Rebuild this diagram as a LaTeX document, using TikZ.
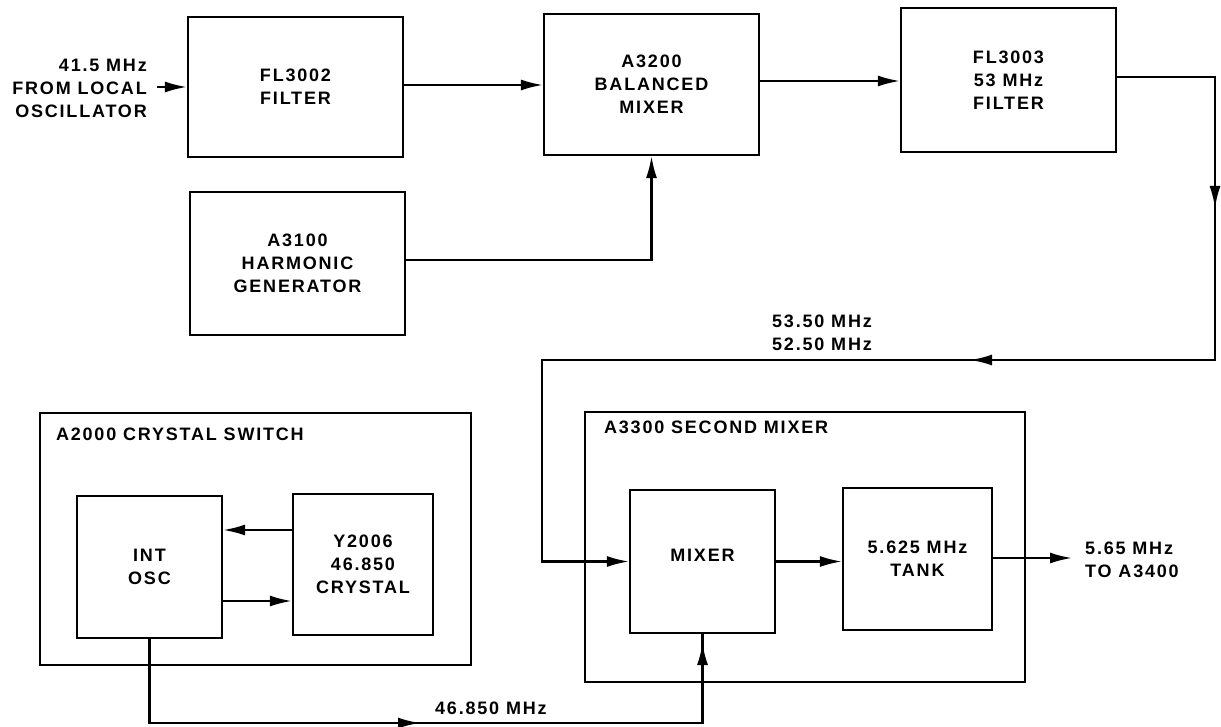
\documentclass[tikz,border=0pt]{standalone}
\usepackage{fontspec}
\setmainfont{Liberation Sans}[LetterSpace=10]
\usetikzlibrary{arrows.meta}
\tikzset{
  blk/.style={draw, line width=2.2pt, align=center, inner sep=0pt, font=\fontsize{18}{23}\selectfont\bfseries},
  lbl/.style={inner sep=0pt, font=\fontsize{18}{23}\selectfont\bfseries},
  wire/.style={line width=2.2pt},
  arr/.style={wire, -{Latex[length=22pt,width=11pt]}},
}
\begin{document}
\begin{tikzpicture}[x=1pt,y=-1pt]
\useasboundingbox (0,0) rectangle (1221,727);
% top row
\node[blk, minimum width=215pt, minimum height=140pt] (fl2) at (295.5,87) {FL3002\\FILTER};
\node[blk, minimum width=215pt, minimum height=143pt] (a3100) at (297.5,263.5) {A3100\\HARMONIC\\GENERATOR};
\node[blk, minimum width=215pt, minimum height=141pt] (a3200) at (651.5,84.5) {A3200\\BALANCED\\MIXER};
\node[blk, minimum width=215pt, minimum height=144pt] (fl3) at (1008.5,80) {FL3003\\53 MHz\\FILTER};
% crystal switch
\node[blk, minimum width=431pt, minimum height=252pt] (a2000) at (255.5,539) {};
\node[lbl, anchor=west] (a2000l) at ([xshift=17pt,yshift=-22pt]a2000.north west) {A2000 CRYSTAL SWITCH};
\node[blk, minimum width=145pt, minimum height=142pt] (intosc) at (149.5,567) {INT\\OSC};
\node[blk, minimum width=140pt, minimum height=141pt] (y2006) at (363,564.5) {Y2006\\46.850\\CRYSTAL};
% second mixer
\node[blk, minimum width=440pt, minimum height=270pt] (a3300) at (805,547) {};
\node[lbl, anchor=west] (a3300l) at ([xshift=20pt,yshift=-16pt]a3300.north west) {A3300 SECOND MIXER};
\node[blk, minimum width=145pt, minimum height=143pt] (mixer) at (702.5,561.5) {\raisebox{6pt}[\height][\depth]{MIXER}};
\node[blk, minimum width=149pt, minimum height=142pt] (tank) at (917.5,559) {5.625 MHz\\TANK};
% labels
\node[lbl, anchor=east, align=right] (inl) at (147,88) {41.5 MHz\\FROM LOCAL\\OSCILLATOR};
\node[lbl, anchor=west, align=left] (midl) at (772,333) {53.50 MHz\\52.50 MHz};
\node[lbl, anchor=west] (xtall) at (435,708) {46.850 MHz};
\node[lbl, anchor=west, align=left] (outl) at (1085,560) {5.65 MHz\\TO A3400};
% coordinates
\coordinate (in) at (157,87);
\coordinate (c2s) at (1215,180);
\coordinate (c2) at (1215,208);
\coordinate (c3) at (1215,360);
\coordinate (c4s) at (1000,360);
\coordinate (c4) at (970,360);
\coordinate (c5) at (542,360);
\coordinate (c6) at (542,561.5);
\coordinate (c7s) at (390,723);
\coordinate (c7) at (420,723);
\coordinate (c9) at (702.5,723);
\coordinate (c8s) at (702.5,670);
\coordinate (c8) at (702.5,643);
\coordinate (out) at (1072,558);
% connectors
\draw[arr] (in) -- (fl2.west);
\draw[arr] ([yshift=2pt]fl2.east) -- ([yshift=2pt]fl2.east -| a3200.west);
\draw[arr] ([yshift=3.5pt]a3100.east) -| (a3200.south);
\draw[arr] ([yshift=3.5pt]a3200.east) -- ([yshift=3.5pt]a3200.east -| fl3.west);
\draw[arr] ([yshift=3pt]fl3.east) -| (c3) -- (c5) -- (c6) -- (mixer.west);
\draw[arr] (c2s) -- (c2);
\draw[arr] (c4s) -- (c4);
\draw[arr] ([yshift=34.5pt]y2006.west) -- ([yshift=34.5pt]y2006.west -| intosc.east);
\draw[arr] ([yshift=-34pt]intosc.east) -- ([yshift=-34pt]intosc.east -| y2006.west);
\draw[wire] (intosc.south) |- (c9) -- (mixer.south);
\draw[arr] (c7s) -- (c7);
\draw[arr] (c8s) -- (c8);
\draw[arr] (mixer.east) -- (mixer.east -| tank.west);
\draw[arr] ([yshift=1pt]tank.east) -- (out);
\end{tikzpicture}
\end{document}
